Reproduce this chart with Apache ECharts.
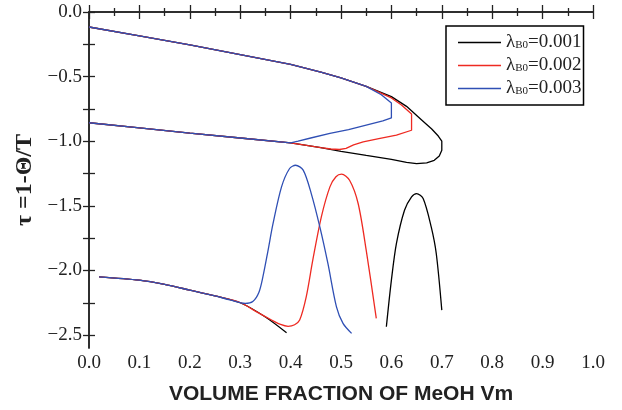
<!DOCTYPE html>
<html>
<head>
<meta charset="utf-8">
<script src="https://cdn.jsdelivr.net/npm/echarts@6/dist/echarts.min.js"></script>
<style>
  html, body { margin: 0; padding: 0; background: #fff; }
  #chart { width: 622px; height: 410px; }
</style>
</head>
<body>
<div id="chart"></div>
<script>
// legend names (lambda_B0 values)
const lambdas = ['0.001', '0.002', '0.003']
const colors = ['#000000', '#ee2a22', '#2f4fb4']

// tick values of the tau axis
const yLabelValues = [0, -0.5, -1.0, -1.5, -2.0, -2.5]
const yTickValues = [0, -0.25, -0.5, -0.75, -1.0, -1.25, -1.5, -1.75, -2.0, -2.25, -2.5]

// upper (two-phase) loop: shared upper branch, shared lower branch
const topShared = [[0, -0.116], [0.1, -0.185], [0.2, -0.255], [0.3, -0.33], [0.4, -0.405], [0.46, -0.465], [0.5, -0.51], [0.55, -0.575]]
const midShared = [[0.4, -1.012], [0.3, -0.975], [0.2, -0.938], [0.1, -0.897], [0, -0.857]]

const blackTip = [[0.6, -0.655], [0.63, -0.73], [0.66, -0.835], [0.68, -0.905], [0.693, -0.96], [0.7, -1.0], [0.7, -1.07], [0.695, -1.115], [0.685, -1.148], [0.67, -1.167], [0.65, -1.173], [0.63, -1.163], [0.6, -1.14], [0.55, -1.11], [0.5, -1.078], [0.46, -1.05]]
const redTip = [[0.6, -0.665], [0.62, -0.72], [0.64, -0.79], [0.64, -0.915], [0.61, -0.952], [0.575, -0.98], [0.544, -1.005], [0.525, -1.028], [0.51, -1.055], [0.497, -1.064], [0.48, -1.06], [0.46, -1.05]]
const blueTip = [[0.58, -0.64], [0.6, -0.705], [0.6, -0.82], [0.583, -0.843], [0.515, -0.91], [0.478, -0.94], [0.44, -0.975], [0.415, -1.0]]

// lower curves
const lowShared = [[0.02, -2.049], [0.1, -2.075], [0.15, -2.108], [0.2, -2.152], [0.25, -2.197]]
const blackLow = [[0.3, -2.25], [0.35, -2.36], [0.392, -2.482], null, [0.59, -2.436], [0.6, -2.075], [0.61, -1.791], [0.626, -1.534], [0.64, -1.431], [0.65, -1.405], [0.663, -1.443], [0.679, -1.663], [0.689, -1.869], [0.7, -2.307]]
const redLow = [[0.3, -2.248], [0.33, -2.315], [0.363, -2.385], [0.38, -2.418], [0.395, -2.432], [0.408, -2.42], [0.418, -2.384], [0.431, -2.204], [0.444, -1.92], [0.461, -1.585], [0.478, -1.353], [0.49, -1.275], [0.501, -1.255], [0.517, -1.302], [0.534, -1.482], [0.55, -1.843], [0.57, -2.371]]
const blueLow = [[0.28, -2.228], [0.31, -2.255], [0.325, -2.24], [0.337, -2.17], [0.345, -2.05], [0.355, -1.85], [0.365, -1.64], [0.382, -1.353], [0.398, -1.211], [0.41, -1.186], [0.425, -1.224], [0.441, -1.405], [0.458, -1.663], [0.474, -1.946], [0.491, -2.282], [0.504, -2.41], [0.521, -2.487]]

const upper = [
  topShared.concat(blackTip, midShared),
  topShared.concat(redTip, midShared),
  topShared.concat(blueTip, midShared),
]
const lower = [
  lowShared.concat(blackLow),
  lowShared.concat(redLow),
  lowShared.concat(blueLow),
]

const chart = echarts.init(document.getElementById('chart'))

const AXIS = '#222'
const SERIF = '"Liberation Serif", "Times New Roman", serif'
const fmt = (v) => v.toFixed(1).replace('-', '\u2212')

const xCommon = {
  type: 'value', min: 0, max: 1, interval: 0.1,
  axisLine: { show: true, lineStyle: { color: AXIS, width: 1.5 } },
  axisTick: { show: true, inside: true, length: 7, lineStyle: { color: AXIS, width: 1.3 } },
  minorTick: { show: true, splitNumber: 2, length: 4, lineStyle: { color: AXIS, width: 1.3 } },
  splitLine: { show: false },
}
const yCommon = {
  type: 'value', min: -2.6, max: 0,
  axisLine: { show: true, lineStyle: { color: AXIS, width: 1.5 } },
  axisTick: { show: true, inside: true, length: 6, customValues: yTickValues, lineStyle: { color: AXIS, width: 1.3 } },
  splitLine: { show: false },
}

const series = []
lambdas.forEach((lam, i) => {
  const name = 'λ' + lam
  series.push({
    name, type: 'line', data: upper[i], symbol: 'none', smooth: false,
    lineStyle: { color: colors[i], width: 1.3 }, itemStyle: { color: colors[i] },
  })
  series.push({
    name, type: 'line', data: lower[i], symbol: 'none', smooth: 0.3,
    lineStyle: { color: colors[i], width: 1.3 }, itemStyle: { color: colors[i] },
  })
})

chart.setOption({
  animation: false,
  backgroundColor: '#fff',
  grid: { left: 89, right: 29, top: 12, bottom: 62 },
  legend: {
    left: 446, top: 26, orient: 'vertical',
    data: lambdas.map((l) => 'λ' + l),
    icon: 'rect',
    itemWidth: 43, itemHeight: 1.4, itemGap: 4,
    padding: [7, 2, 7, 12],
    borderColor: '#000', borderWidth: 1.5,
    formatter: (n) => '{a|λ}{s|B0}{a|=' + n.slice(1) + '}',
    textStyle: {
      fontFamily: SERIF, fontSize: 19, color: '#222',
      rich: {
        a: { fontFamily: SERIF, fontSize: 19, color: '#222' },
        s: { fontFamily: SERIF, fontSize: 11, color: '#222', verticalAlign: 'bottom', padding: [0, 0, 1, 0] },
      },
    },
  },
  xAxis: [
    Object.assign({}, xCommon, {
      position: 'bottom',
      name: 'VOLUME FRACTION OF MeOH Vm', nameLocation: 'middle', nameGap: 36,
      nameTextStyle: { fontFamily: '"Liberation Sans", Arial, sans-serif', fontWeight: 'bold', fontSize: 21, color: '#222' },
      axisLabel: { fontFamily: SERIF, fontSize: 19, color: '#222', margin: 6, formatter: fmt },
    }),
    Object.assign({}, xCommon, { position: 'top', axisLabel: { show: false } }),
  ],
  yAxis: [
    Object.assign({}, yCommon, {
      position: 'left',
      name: 'τ =1-Θ/T', nameLocation: 'middle', nameGap: 52, nameRotate: 90,
      nameTextStyle: { fontFamily: SERIF, fontWeight: 'bold', fontSize: 24, color: '#222' },
      axisLabel: { fontFamily: SERIF, fontSize: 19, color: '#222', margin: 7, customValues: yLabelValues, formatter: fmt },
    }),
    Object.assign({}, yCommon, { position: 'right', axisLabel: { show: false } }),
  ],
  series,
})
</script>
</body>
</html>
